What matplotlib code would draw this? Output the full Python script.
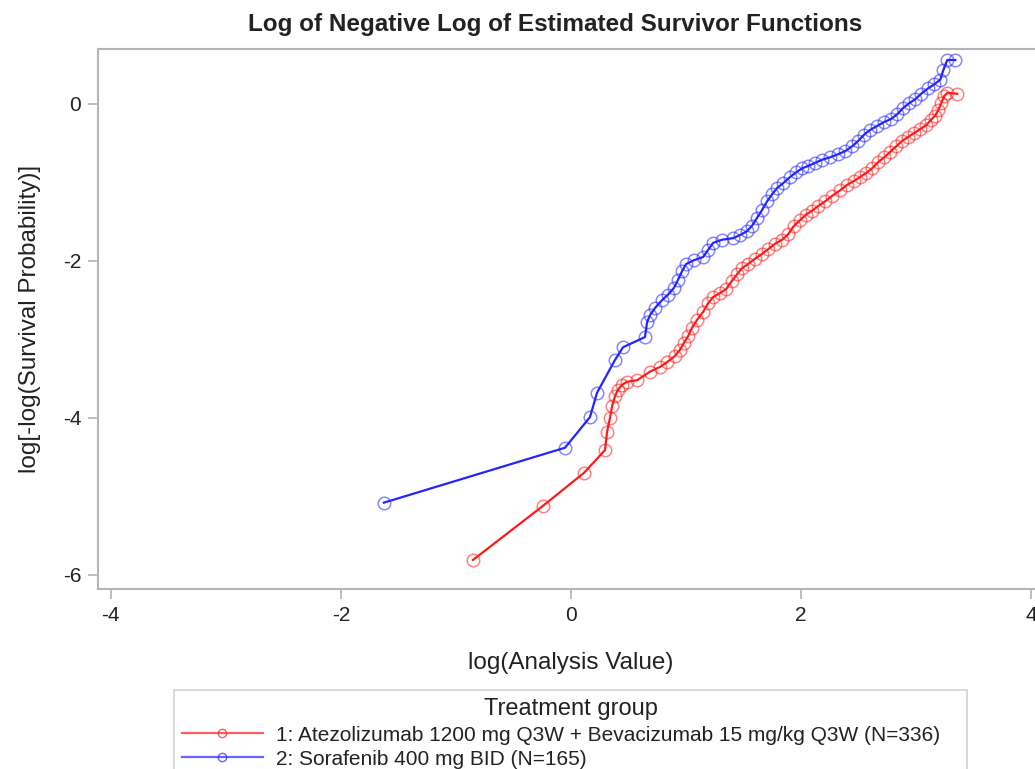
import matplotlib
matplotlib.use("Agg")
import matplotlib.pyplot as plt
from matplotlib.lines import Line2D

plt.rcParams['font.family'] = ['Liberation Sans', 'DejaVu Sans']

# log(time) and log(-log(S)) for each treatment arm
atezo_x = [-0.852, -0.243, 0.113, 0.296, 0.313, 0.339, 0.357, 0.383, 0.409, 0.443,
           0.487, 0.574, 0.687, 0.774, 0.835, 0.904, 0.948, 0.983, 1.017, 1.052,
           1.096, 1.148, 1.191, 1.235, 1.296, 1.348, 1.400, 1.443, 1.487, 1.539,
           1.600, 1.661, 1.713, 1.774, 1.835, 1.887, 1.939, 1.991, 2.043, 2.096,
           2.148, 2.209, 2.270, 2.339, 2.400, 2.461, 2.513, 2.565, 2.617, 2.670,
           2.722, 2.774, 2.826, 2.878, 2.930, 2.983, 3.035, 3.087, 3.130, 3.165,
           3.191, 3.217, 3.243, 3.270, 3.357]
atezo_y = [-5.81, -5.12, -4.70, -4.41, -4.18, -4.00, -3.85, -3.72, -3.64, -3.58,
           -3.54, -3.52, -3.41, -3.35, -3.29, -3.21, -3.13, -3.04, -2.96, -2.85,
           -2.75, -2.65, -2.54, -2.46, -2.41, -2.36, -2.25, -2.17, -2.09, -2.04,
           -1.97, -1.91, -1.85, -1.78, -1.73, -1.66, -1.55, -1.48, -1.41, -1.36,
           -1.30, -1.24, -1.17, -1.10, -1.03, -0.98, -0.93, -0.88, -0.82, -0.74,
           -0.68, -0.61, -0.54, -0.47, -0.42, -0.37, -0.32, -0.27, -0.20, -0.15,
           -0.08, 0.01, 0.10, 0.14, 0.13]

sora_x = [-1.626, -0.052, 0.165, 0.226, 0.383, 0.452, 0.643, 0.661, 0.687, 0.730,
          0.791, 0.843, 0.896, 0.930, 0.965, 1.000, 1.070, 1.148, 1.191, 1.235,
          1.313, 1.409, 1.470, 1.530, 1.574, 1.617, 1.661, 1.704, 1.748, 1.791,
          1.843, 1.904, 1.957, 2.009, 2.061, 2.122, 2.183, 2.252, 2.322, 2.383,
          2.443, 2.496, 2.548, 2.600, 2.661, 2.722, 2.783, 2.835, 2.887, 2.939,
          2.991, 3.043, 3.104, 3.157, 3.209, 3.235, 3.270, 3.339]
sora_y = [-5.08, -4.38, -3.99, -3.68, -3.26, -3.10, -2.97, -2.78, -2.69, -2.60,
          -2.50, -2.43, -2.34, -2.24, -2.13, -2.04, -1.99, -1.95, -1.86, -1.77,
          -1.73, -1.71, -1.67, -1.62, -1.55, -1.45, -1.35, -1.24, -1.15, -1.07,
          -1.01, -0.93, -0.87, -0.82, -0.79, -0.75, -0.71, -0.68, -0.64, -0.60,
          -0.54, -0.47, -0.39, -0.33, -0.28, -0.23, -0.19, -0.13, -0.05, 0.01,
          0.06, 0.13, 0.20, 0.25, 0.31, 0.43, 0.56, 0.56]

x_ticks = [-4, -2, 0, 2, 4]
y_ticks = [-6, -4, -2, 0]
labels = ["1: Atezolizumab 1200 mg Q3W + Bevacizumab 15 mg/kg Q3W (N=336)",
          "2: Sorafenib 400 mg BID (N=165)"]

W, H = 1035, 769
fig = plt.figure(figsize=(W / 100, H / 100), dpi=100)
ax = fig.add_axes([98 / W, 1 - 589 / H, 946 / W, 540 / H])

red = '#ff1a1a'
blue = '#2424ff'
for xs, ys, c in [(atezo_x, atezo_y, red), (sora_x, sora_y, blue)]:
    ax.plot(xs, ys, color=c, lw=1.6, zorder=2)
    ax.plot(xs, ys, ls='none', marker='o', ms=9, mfc='none', mec=c,
            mew=1.1, alpha=0.55, zorder=3)

ax.set_xlim(-4.11, 4.11)
ax.set_ylim(-6.18, 0.70)
ax.set_xticks(x_ticks)
ax.set_yticks(y_ticks)
ax.set_xticklabels([str(t) for t in x_ticks])
ax.set_yticklabels([str(t) for t in y_ticks])

spine_c = '#b4b4b4'
for s in ax.spines.values():
    s.set_color(spine_c)
    s.set_linewidth(1.5)
ax.tick_params(direction='out', length=7, width=1.2, color=spine_c,
               labelsize=15, labelcolor='#222222', pad=5)

ax.set_xlabel('log(Analysis Value)', fontsize=17.5, color='#222222', labelpad=20)
ax.set_ylabel('log[-log(Survival Probability)]', fontsize=17.5, color='#222222',
              labelpad=16)

fig.text(555 / W, 1 - 25 / H, 'Log of Negative Log of Estimated Survivor Functions',
         ha='center', va='center', fontsize=17.5, fontweight='bold', color='#222222')

handles = [Line2D([], [], color=red, lw=1.6, marker='o', ms=6, mfc='none',
                  mec=red, alpha=0.7),
           Line2D([], [], color=blue, lw=1.6, marker='o', ms=6, mfc='none',
                  mec=blue, alpha=0.7)]
leg = fig.legend(handles, labels, title='Treatment group', loc='upper left',
                 bbox_to_anchor=(174 / W, 1 - 690 / H, (967 - 174) / W, 0),
                 mode='expand', fontsize=15, title_fontsize=17, frameon=True,
                 fancybox=False, edgecolor='#c8c8c8', handlelength=3.85,
                 handletextpad=0.65, labelspacing=0.25, borderpad=0.4,
                 borderaxespad=0)
leg.get_frame().set_linewidth(1.2)
for t in leg.get_texts():
    t.set_color('#222222')
leg.get_title().set_color('#222222')

fig.savefig('out.png', dpi=100)
